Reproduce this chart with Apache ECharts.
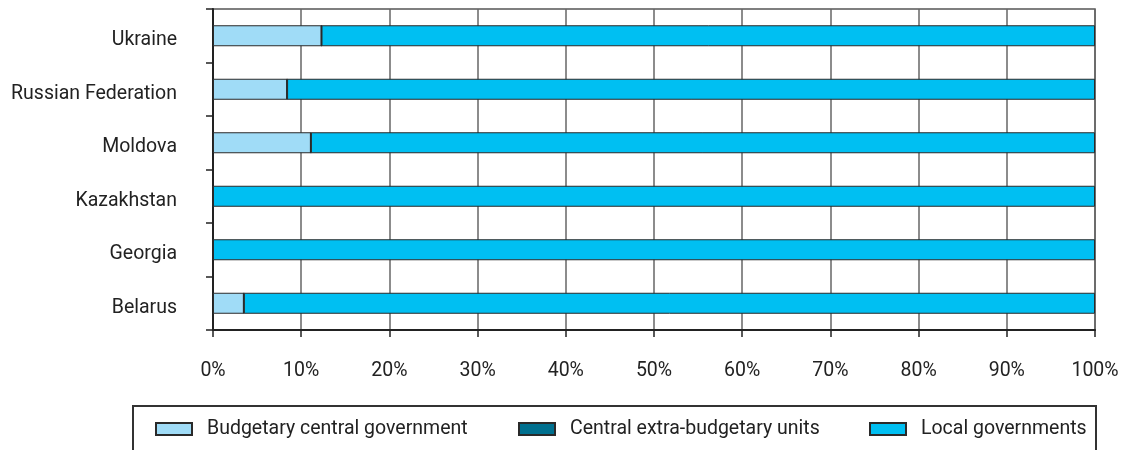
<!DOCTYPE html>
<html><head><meta charset="utf-8">
<script src="https://cdn.jsdelivr.net/npm/echarts@6/dist/echarts.min.js"></script>
<style>html,body{margin:0;padding:0;background:#fff}#c{width:1127px;height:450px}</style>
</head><body><div id="c"></div>
<script>
const categories = ['Belarus', 'Georgia', 'Kazakhstan', 'Moldova', 'Russian Federation', 'Ukraine'];
const budgetaryCentral = [3.5, 0, 0, 11.1, 8.4, 12.3];
const centralExtraBudgetary = [0, 0, 0, 0, 0, 0];
const localGovernments = [96.5, 100, 100, 88.9, 91.6, 87.7];
const seriesNames = ['Budgetary central government', 'Central extra-budgetary units', 'Local governments'];
const colors = ['#a0dcf7', '#00708f', '#00bff2'];

const font = 'Roboto, "Liberation Sans", sans-serif';
const chart = echarts.init(document.getElementById('c'), null, {renderer: 'canvas'});
const mk = (i, data) => ({
  name: seriesNames[i], type: 'bar', stack: 's', data: data, barWidth: 21,
  itemStyle: {color: colors[i], borderColor: '#2a2a2a', borderWidth: 1},
  silent: true, animation: false
});
const legendPos = [155, 518, 869];
chart.setOption({
  animation: false,
  textStyle: {fontFamily: font},
  grid: {left: 213, right: 32, top: 9, bottom: 120, show: true, borderColor: '#555', borderWidth: 1.5},
  xAxis: {
    type: 'value', min: 0, max: 100, interval: 10,
    axisLine: {show: true, lineStyle: {color: '#222', width: 2}},
    axisTick: {show: true, length: 7, lineStyle: {color: '#222', width: 1.5}},
    axisLabel: {formatter: '{value}%', fontSize: 19.5, color: '#222', margin: 31, fontFamily: font},
    splitLine: {show: true, lineStyle: {color: '#666', width: 1.5}}
  },
  yAxis: {
    type: 'category', data: categories,
    axisLine: {show: true, lineStyle: {color: '#222', width: 2}},
    axisTick: {show: true, length: 7, alignWithLabel: false, lineStyle: {color: '#222', width: 1.5}},
    axisLabel: {
      formatter: '{a|{value}}', margin: 36,
      rich: {a: {fontSize: 19.5, color: '#222', fontFamily: font, padding: [9, 0, 0, 0]}}
    },
    splitLine: {show: false}
  },
  legend: legendPos.map((x, i) => ({
    data: [{name: seriesNames[i], icon: 'rect'}], left: x, top: 419, itemWidth: 36, itemHeight: 12,
    itemGap: 14, padding: 0, selectedMode: false,
    textStyle: {fontSize: 19.5, color: '#222', fontFamily: font, padding: [0, 0, 0, 10]}
  })),
  graphic: [{
    type: 'rect', shape: {x: 133, y: 406, width: 963, height: 52},
    style: {fill: 'none', stroke: '#333', lineWidth: 2}, silent: true
  }],
  series: [mk(0, budgetaryCentral), mk(1, centralExtraBudgetary), mk(2, localGovernments)]
});
</script></body></html>
